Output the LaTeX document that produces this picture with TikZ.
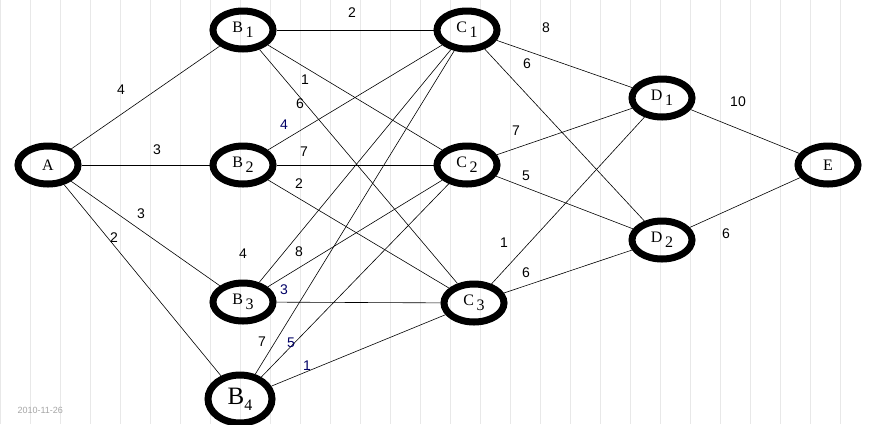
\documentclass[tikz,border=0pt]{standalone}
\usepackage{fontspec}
\setmainfont{Liberation Serif}
\newfontfamily\lab{Liberation Sans}
\begin{document}
\begin{tikzpicture}[x=1pt,y=-1pt,
  st/.style={draw=black,line width=7pt,ellipse,minimum width=60pt,minimum height=38pt,inner sep=0pt,font=\fontsize{16}{16}\selectfont},
  e/.style={line width=0.6pt},
  w/.style={font=\lab\fontsize{14}{14}\selectfont},
  wb/.style={w,text=blue!40!black}]
\usetikzlibrary{shapes.geometric}
\fill[white] (0,0) rectangle (869,424);
\useasboundingbox (0,0) rectangle (869,424);
\draw[black!9,line width=0.5pt] (0,0) grid[step=30] (869,424);
\node[st] (A) at (48,165) {A};
\node[st] (B1) at (243,30) {B\,\raisebox{-5pt}{1}};
\node[st] (B2) at (243,165) {B\,\raisebox{-5pt}{2}};
\node[st] (B3) at (243,302) {B\,\raisebox{-5pt}{3}};
\node[st,minimum width=64pt,minimum height=48pt,font=\fontsize{25}{25}\selectfont] (B4) at (240,399) {B\raisebox{-6pt}{\fontsize{16}{16}\selectfont 4}};
\node[st] (C1) at (467,30) {C\,\raisebox{-5pt}{1}};
\node[st] (C2) at (467,165) {C\,\raisebox{-5pt}{2}};
\node[st] (C3) at (474,303) {C\,\raisebox{-5pt}{3}};
\node[st] (D1) at (662,98) {D\,\raisebox{-5pt}{1}};
\node[st] (D2) at (662,240) {D\,\raisebox{-5pt}{2}};
\node[st] (E) at (828,165) {E};
\foreach \a/\b in {A/B1,A/B2,A/B3,A/B4,B1/C1,B1/C2,B1/C3,B2/C1,B2/C2,B2/C3,B3/C1,B3/C2,B3/C3,B4/C1,B4/C2,B4/C3,C1/D1,C1/D2,C2/D1,C2/D2,C3/D1,C3/D2,D1/E,D2/E}
  \draw[e] (\a) -- (\b);
\node[w] at (121,90) {4};
\node[w] at (157,150) {3};
\node[w] at (141,214) {3};
\node[w] at (114,238) {2};
\node[w] at (352,13) {2};
\node[w] at (305,80) {1};
\node[w] at (300,104) {6};
\node[wb] at (284,125) {4};
\node[w] at (304,152) {7};
\node[w] at (299,184) {2};
\node[w] at (243,254) {4};
\node[w] at (299,252) {8};
\node[wb] at (284,290) {3};
\node[w] at (262,342) {7};
\node[wb] at (291,343) {5};
\node[wb] at (307,366) {1};
\node[w] at (546,28) {8};
\node[w] at (527,64) {6};
\node[w] at (516,131) {7};
\node[w] at (526,176) {5};
\node[w] at (504,243) {1};
\node[w] at (526,273) {6};
\node[w] at (738,102) {10};
\node[w] at (726,234) {6};
\node[text=black!35,font=\lab\fontsize{9}{9}\selectfont,anchor=west] at (14,410) {2010-11-26};
\end{tikzpicture}
\end{document}
